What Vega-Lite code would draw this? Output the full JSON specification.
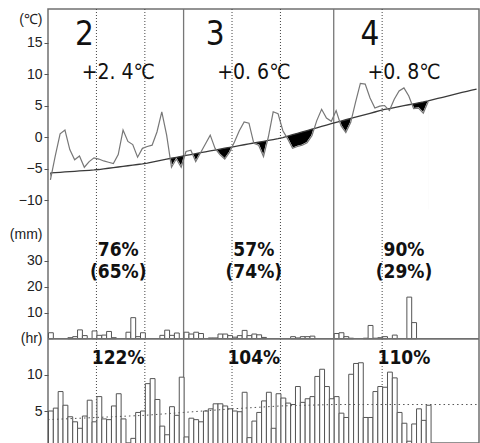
{
  "$schema": "https://vega.github.io/schema/vega-lite/v6.json",
  "width": 431,
  "height": 434,
  "autosize": {"type": "none"},
  "padding": {"left": 48, "top": 9, "right": 1, "bottom": 0},
  "background": "white",
  "config": {
    "view": {"stroke": "#707070", "strokeWidth": 1.5},
    "axis": {"domain": false, "grid": false, "tickColor": "#555", "tickSize": 4, "labelFont": "Liberation Sans", "labelFontSize": 14, "labelColor": "#222", "labelPadding": 2, "labelFlush": false, "labelOverlap": false}
  },
  "datasets": {
    "days": [
      {"date": "2023-02-01", "t": -6.8, "n": -5.70, "p": 2.3, "s": 5.0},
      {"date": "2023-02-02", "t": -3.0, "n": -5.65, "p": null, "s": 5.4},
      {"date": "2023-02-03", "t": 0.5, "n": -5.60, "p": null, "s": 7.7},
      {"date": "2023-02-04", "t": 1.1, "n": -5.54, "p": null, "s": 5.8},
      {"date": "2023-02-05", "t": -2.0, "n": -5.49, "p": 0.4, "s": 4.2},
      {"date": "2023-02-06", "t": -3.6, "n": -5.44, "p": 0.8, "s": 3.5},
      {"date": "2023-02-07", "t": -3.0, "n": -5.39, "p": 3.4, "s": 2.6},
      {"date": "2023-02-08", "t": -4.8, "n": -5.34, "p": 1.2, "s": 4.3},
      {"date": "2023-02-09", "t": -3.9, "n": -5.28, "p": null, "s": 6.5},
      {"date": "2023-02-10", "t": -3.3, "n": -5.23, "p": 3.0, "s": 3.5},
      {"date": "2023-02-11", "t": -3.5, "n": -5.16, "p": 1.3, "s": 7.0},
      {"date": "2023-02-12", "t": -3.8, "n": -5.06, "p": 1.4, "s": 3.9},
      {"date": "2023-02-13", "t": -4.0, "n": -4.96, "p": 2.8, "s": 3.8},
      {"date": "2023-02-14", "t": -4.2, "n": -4.86, "p": 0.4, "s": 5.7},
      {"date": "2023-02-15", "t": -2.8, "n": -4.76, "p": null, "s": 7.4},
      {"date": "2023-02-16", "t": 1.1, "n": -4.66, "p": null, "s": 3.9},
      {"date": "2023-02-17", "t": -0.7, "n": -4.56, "p": 2.5, "s": 0},
      {"date": "2023-02-18", "t": -1.2, "n": -4.46, "p": 8.1, "s": 1.2},
      {"date": "2023-02-19", "t": -3.2, "n": -4.36, "p": 0.8, "s": 4.8},
      {"date": "2023-02-20", "t": -1.8, "n": -4.26, "p": 2.3, "s": 5.0},
      {"date": "2023-02-21", "t": -1.5, "n": -4.13, "p": null, "s": 8.8},
      {"date": "2023-02-22", "t": -1.3, "n": -3.98, "p": null, "s": 9.5},
      {"date": "2023-02-23", "t": 0.8, "n": -3.83, "p": null, "s": 6.6},
      {"date": "2023-02-24", "t": 4.0, "n": -3.68, "p": 1.3, "s": 2.9},
      {"date": "2023-02-25", "t": 0.3, "n": -3.52, "p": 3.3, "s": 1.7},
      {"date": "2023-02-26", "t": -4.8, "n": -3.37, "p": 1.3, "s": 5.6},
      {"date": "2023-02-27", "t": -3.5, "n": -3.22, "p": 2.2, "s": 4.4},
      {"date": "2023-02-28", "t": -4.8, "n": -3.06, "p": null, "s": 9.7},
      {"date": "2023-03-01", "t": -2.3, "n": -2.92, "p": 2.5, "s": 1.4},
      {"date": "2023-03-02", "t": -2.1, "n": -2.78, "p": 1.8, "s": 4.0},
      {"date": "2023-03-03", "t": -3.9, "n": -2.64, "p": 2.5, "s": 3.8},
      {"date": "2023-03-04", "t": -2.5, "n": -2.49, "p": 2.0, "s": 3.5},
      {"date": "2023-03-05", "t": -1.1, "n": -2.35, "p": null, "s": 5.0},
      {"date": "2023-03-06", "t": 0.3, "n": -2.21, "p": 0.3, "s": 5.3},
      {"date": "2023-03-07", "t": -1.8, "n": -2.07, "p": 0.3, "s": 6.0},
      {"date": "2023-03-08", "t": -2.8, "n": -1.93, "p": 1.8, "s": 6.0},
      {"date": "2023-03-09", "t": -3.5, "n": -1.78, "p": 1.8, "s": 5.7},
      {"date": "2023-03-10", "t": -2.4, "n": -1.64, "p": 1.2, "s": 5.3},
      {"date": "2023-03-11", "t": -0.8, "n": -1.51, "p": 0.6, "s": 5.0},
      {"date": "2023-03-12", "t": 1.0, "n": -1.37, "p": 1.2, "s": 4.9},
      {"date": "2023-03-13", "t": 2.4, "n": -1.23, "p": 3.2, "s": 7.6},
      {"date": "2023-03-14", "t": 2.2, "n": -1.09, "p": 1.2, "s": 1.3},
      {"date": "2023-03-15", "t": -1.0, "n": -0.95, "p": 1.8, "s": 3.6},
      {"date": "2023-03-16", "t": -1.3, "n": -0.82, "p": 1.5, "s": 4.8},
      {"date": "2023-03-17", "t": -3.1, "n": -0.68, "p": 0.5, "s": 6.4},
      {"date": "2023-03-18", "t": 0.0, "n": -0.54, "p": null, "s": 7.6},
      {"date": "2023-03-19", "t": 4.0, "n": -0.40, "p": null, "s": 2.6},
      {"date": "2023-03-20", "t": 3.7, "n": -0.26, "p": null, "s": 7.4},
      {"date": "2023-03-21", "t": 1.0, "n": -0.08, "p": null, "s": 6.8},
      {"date": "2023-03-22", "t": -0.3, "n": 0.14, "p": null, "s": 6.1},
      {"date": "2023-03-23", "t": -1.8, "n": 0.36, "p": 0.8, "s": 5.9},
      {"date": "2023-03-24", "t": -1.5, "n": 0.58, "p": 0.3, "s": 8.4},
      {"date": "2023-03-25", "t": -1.3, "n": 0.80, "p": 0.8, "s": 6.2},
      {"date": "2023-03-26", "t": -0.9, "n": 1.02, "p": 0.8, "s": 6.7},
      {"date": "2023-03-27", "t": 0.2, "n": 1.24, "p": 1.0, "s": 7.0},
      {"date": "2023-03-28", "t": 2.6, "n": 1.46, "p": null, "s": 9.8},
      {"date": "2023-03-29", "t": 4.4, "n": 1.68, "p": null, "s": 10.8},
      {"date": "2023-03-30", "t": 3.0, "n": 1.89, "p": null, "s": 8.4},
      {"date": "2023-03-31", "t": 2.5, "n": 2.11, "p": null, "s": 6.7},
      {"date": "2023-04-01", "t": 4.2, "n": 2.33, "p": 2.0, "s": 7.0},
      {"date": "2023-04-02", "t": 1.8, "n": 2.53, "p": 2.3, "s": 4.7},
      {"date": "2023-04-03", "t": 0.7, "n": 2.74, "p": 0.8, "s": 4.1},
      {"date": "2023-04-04", "t": 2.3, "n": 2.95, "p": 0.2, "s": 10.1},
      {"date": "2023-04-05", "t": 5.5, "n": 3.15, "p": null, "s": 11.6},
      {"date": "2023-04-06", "t": 8.5, "n": 3.36, "p": null, "s": 11.7},
      {"date": "2023-04-07", "t": 8.4, "n": 3.56, "p": 0.2, "s": 4.1},
      {"date": "2023-04-08", "t": 6.2, "n": 3.77, "p": 5.1, "s": 4.1},
      {"date": "2023-04-09", "t": 4.6, "n": 3.97, "p": 0.2, "s": 7.7},
      {"date": "2023-04-10", "t": 4.9, "n": 4.18, "p": 0.4, "s": 8.4},
      {"date": "2023-04-11", "t": 5.0, "n": 4.37, "p": 0.8, "s": 8.3},
      {"date": "2023-04-12", "t": 4.2, "n": 4.52, "p": null, "s": 10.4},
      {"date": "2023-04-13", "t": 6.0, "n": 4.67, "p": 1.4, "s": 9.6},
      {"date": "2023-04-14", "t": 7.3, "n": 4.82, "p": null, "s": 4.8},
      {"date": "2023-04-15", "t": 7.8, "n": 4.97, "p": null, "s": 3.3},
      {"date": "2023-04-16", "t": 6.5, "n": 5.12, "p": 16.0, "s": 0.8},
      {"date": "2023-04-17", "t": 4.5, "n": 5.27, "p": 6.2, "s": 3.2},
      {"date": "2023-04-18", "t": 4.6, "n": 5.42, "p": null, "s": 5.3},
      {"date": "2023-04-19", "t": 3.8, "n": 5.57, "p": null, "s": 3.7},
      {"date": "2023-04-20", "t": 5.6, "n": 5.74, "p": null, "s": 5.8},
      {"date": "2023-04-21", "t": null, "n": 5.93, "p": null, "s": null},
      {"date": "2023-04-22", "t": null, "n": 6.12, "p": null, "s": null},
      {"date": "2023-04-23", "t": null, "n": 6.31, "p": null, "s": null},
      {"date": "2023-04-24", "t": null, "n": 6.50, "p": null, "s": null},
      {"date": "2023-04-25", "t": null, "n": 6.69, "p": null, "s": null},
      {"date": "2023-04-26", "t": null, "n": 6.88, "p": null, "s": null},
      {"date": "2023-04-27", "t": null, "n": 7.07, "p": null, "s": null},
      {"date": "2023-04-28", "t": null, "n": 7.26, "p": null, "s": null},
      {"date": "2023-04-29", "t": null, "n": 7.45, "p": null, "s": null},
      {"date": "2023-04-30", "t": null, "n": 7.60, "p": null, "s": null}
    ],
    "sunnorm": [
      {"date": "2023-02-01", "v": 3.8},
      {"date": "2023-02-11", "v": 4.1},
      {"date": "2023-02-21", "v": 4.4},
      {"date": "2023-03-01", "v": 4.8},
      {"date": "2023-03-11", "v": 5.3},
      {"date": "2023-03-21", "v": 5.7},
      {"date": "2023-04-01", "v": 5.9},
      {"date": "2023-05-01", "v": 5.9}
    ],
    "dots": [
      {"date": "2023-02-11"}, {"date": "2023-02-21"}, {"date": "2023-03-11"}, {"date": "2023-03-21"}, {"date": "2023-04-11"}
    ],
    "mlines": [
      {"date": "2023-03-01"}, {"date": "2023-04-01"}
    ],
    "months": [
      {"md": "2023-02-08", "c": "2023-02-15", "m": "2", "anom": "+2. 4℃", "pr": "76%", "prr": "(65%)", "sun": "122%"},
      {"md": "2023-03-07", "c": "2023-03-15", "m": "3", "anom": "+0. 6℃", "pr": "57%", "prr": "(74%)", "sun": "104%"},
      {"md": "2023-04-08", "c": "2023-04-15", "m": "4", "anom": "+0. 8℃", "pr": "90%", "prr": "(29%)", "sun": "110%"}
    ]
  },
  "layer": [
    {
      "data": {"name": "days"},
      "transform": [{"filter": "datum.t != null"}],
      "mark": {"type": "area", "color": "black", "opacity": 1},
      "encoding": {
        "x": {"field": "date", "type": "temporal", "timeUnit": "utcyearmonthdate", "bandPosition": 0.5, "scale": {"type": "utc", "domain": [{"year": 2023, "month": 2, "date": 1, "utc": true}, {"year": 2023, "month": 5, "date": 1, "utc": true}]}, "axis": null},
        "y": {"field": "n", "type": "quantitative", "scale": {"domain": [-48.57, 20.32], "nice": false, "zero": false}, "axis": {"orient": "left", "title": null, "values": [-10, -5, 0, 5, 10, 15, 18.6], "labelExpr": "datum.value > 17 ? '(℃)' : datum.label", "tickOpacity": {"condition": {"test": "datum.value > 17", "value": 0}, "value": 1}}},
        "y2": {"datum": -11.5}
      }
    },
    {
      "data": {"name": "days"},
      "transform": [{"filter": "datum.t != null"}],
      "mark": {"type": "area", "color": "white", "opacity": 1, "stroke": "white", "strokeWidth": 1.5},
      "encoding": {
        "x": {"field": "date", "type": "temporal", "timeUnit": "utcyearmonthdate", "bandPosition": 0.5, "scale": {"type": "utc"}, "axis": null},
        "y": {"field": "t", "type": "quantitative", "scale": {"domain": [-48.57, 20.32], "nice": false, "zero": false}, "axis": null},
        "y2": {"datum": -12.5}
      }
    },
    {
      "data": {"name": "dots"},
      "mark": {"type": "rule", "color": "#444", "strokeWidth": 1, "strokeDash": [1, 2]},
      "encoding": {"x": {"field": "date", "type": "temporal", "scale": {"type": "utc"}, "axis": null}}
    },
    {
      "data": {"name": "mlines"},
      "mark": {"type": "rule", "color": "#777", "strokeWidth": 1.3},
      "encoding": {"x": {"field": "date", "type": "temporal", "scale": {"type": "utc"}, "axis": null}}
    },
    {
      "data": {"name": "days"},
      "mark": {"type": "line", "color": "#3a3a3a", "strokeWidth": 1.3},
      "encoding": {
        "x": {"field": "date", "type": "temporal", "timeUnit": "utcyearmonthdate", "bandPosition": 0.5, "scale": {"type": "utc"}, "axis": null},
        "y": {"field": "n", "type": "quantitative", "scale": {"domain": [-48.57, 20.32], "nice": false, "zero": false}, "axis": null}
      }
    },
    {
      "data": {"name": "days"},
      "transform": [{"filter": "datum.t != null"}],
      "mark": {"type": "line", "color": "#777", "strokeWidth": 1.2},
      "encoding": {
        "x": {"field": "date", "type": "temporal", "timeUnit": "utcyearmonthdate", "bandPosition": 0.5, "scale": {"type": "utc"}, "axis": null},
        "y": {"field": "t", "type": "quantitative", "scale": {"domain": [-48.57, 20.32], "nice": false, "zero": false}, "axis": null}
      }
    },
    {
      "data": {"name": "months"},
      "mark": {"type": "text", "font": "Liberation Sans Narrow, DejaVu Sans Condensed, Noto Sans CJK JP", "fontSize": 33, "align": "center", "baseline": "middle", "color": "#111"},
      "encoding": {
        "x": {"field": "md", "type": "temporal", "timeUnit": "utcyearmonthdate", "bandPosition": 0.5, "scale": {"type": "utc"}, "axis": null},
        "y": {"datum": 16.2, "scale": {"domain": [-48.57, 20.32], "nice": false, "zero": false}, "axis": null},
        "text": {"field": "m"}
      }
    },
    {
      "data": {"name": "months"},
      "mark": {"type": "text", "font": "Liberation Sans Narrow, DejaVu Sans Condensed, Noto Sans CJK JP", "fontSize": 21, "align": "center", "baseline": "middle", "color": "#111"},
      "encoding": {
        "x": {"field": "c", "type": "temporal", "timeUnit": "utcyearmonthdate", "bandPosition": 0.5, "scale": {"type": "utc"}, "axis": null},
        "y": {"datum": 10.1, "scale": {"domain": [-48.57, 20.32], "nice": false, "zero": false}, "axis": null},
        "text": {"field": "anom"}
      }
    },
    {
      "data": {"name": "days"},
      "mark": {"type": "bar", "fill": "white", "stroke": "#555", "strokeWidth": 1, "binSpacing": 0},
      "encoding": {
        "x": {"field": "date", "type": "temporal", "timeUnit": "utcyearmonthdate", "scale": {"type": "utc"}, "axis": null},
        "y": {"field": "p", "type": "quantitative", "scale": {"domain": [-40.1, 126.8], "nice": false, "zero": false}, "axis": {"orient": "left", "title": null, "values": [10, 20, 30, 40], "labelExpr": "datum.value > 35 ? '(mm)' : datum.label", "tickOpacity": {"condition": {"test": "datum.value > 35", "value": 0}, "value": 1}}},
        "y2": {"datum": 0}
      }
    },
    {
      "data": {"name": "mlines"},
      "mark": {"type": "rule", "color": "#707070", "strokeWidth": 1.4},
      "encoding": {"y": {"datum": 0, "scale": {"domain": [-40.1, 126.8], "nice": false, "zero": false}, "axis": null}}
    },
    {
      "data": {"name": "months"},
      "mark": {"type": "text", "font": "Liberation Sans Narrow, DejaVu Sans Condensed, Noto Sans CJK JP", "fontSize": 19, "fontWeight": "bold", "align": "center", "baseline": "middle", "color": "#111"},
      "encoding": {
        "x": {"field": "c", "type": "temporal", "timeUnit": "utcyearmonthdate", "bandPosition": 0.5, "scale": {"type": "utc"}, "axis": null},
        "y": {"datum": 34.1, "scale": {"domain": [-40.1, 126.8], "nice": false, "zero": false}, "axis": null},
        "text": {"field": "pr"}
      }
    },
    {
      "data": {"name": "months"},
      "mark": {"type": "text", "font": "Liberation Sans Narrow, DejaVu Sans Condensed, Noto Sans CJK JP", "fontSize": 19, "fontWeight": "bold", "align": "center", "baseline": "middle", "color": "#111"},
      "encoding": {
        "x": {"field": "c", "type": "temporal", "timeUnit": "utcyearmonthdate", "bandPosition": 0.5, "scale": {"type": "utc"}, "axis": null},
        "y": {"datum": 25.7, "scale": {"domain": [-40.1, 126.8], "nice": false, "zero": false}, "axis": null},
        "text": {"field": "prr"}
      }
    },
    {
      "data": {"name": "days"},
      "mark": {"type": "bar", "fill": "white", "stroke": "#555", "strokeWidth": 1, "binSpacing": 0, "clip": true},
      "encoding": {
        "x": {"field": "date", "type": "temporal", "timeUnit": "utcyearmonthdate", "scale": {"type": "utc"}, "axis": null},
        "y": {"field": "s", "type": "quantitative", "scale": {"domain": [0.556, 60.83], "nice": false, "zero": false}, "axis": {"orient": "left", "title": null, "values": [5, 10, 15], "labelExpr": "datum.value > 12 ? '(hr)' : datum.label", "tickOpacity": {"condition": {"test": "datum.value > 12", "value": 0}, "value": 1}}},
        "y2": {"datum": 0}
      }
    },
    {
      "data": {"name": "sunnorm"},
      "mark": {"type": "line", "color": "#555", "strokeWidth": 1, "strokeDash": [1.5, 3]},
      "encoding": {
        "x": {"field": "date", "type": "temporal", "scale": {"type": "utc"}, "axis": null},
        "y": {"field": "v", "type": "quantitative", "scale": {"domain": [0.556, 60.83], "nice": false, "zero": false}, "axis": null}
      }
    },
    {
      "data": {"name": "months"},
      "mark": {"type": "text", "font": "Liberation Sans Narrow, DejaVu Sans Condensed, Noto Sans CJK JP", "fontSize": 19, "fontWeight": "bold", "align": "center", "baseline": "middle", "color": "#111"},
      "encoding": {
        "x": {"field": "c", "type": "temporal", "timeUnit": "utcyearmonthdate", "bandPosition": 0.5, "scale": {"type": "utc"}, "axis": null},
        "y": {"datum": 12.4, "scale": {"domain": [0.556, 60.83], "nice": false, "zero": false}, "axis": null},
        "text": {"field": "sun"}
      }
    }
  ],
  "resolve": {"scale": {"y": "independent"}}
}
